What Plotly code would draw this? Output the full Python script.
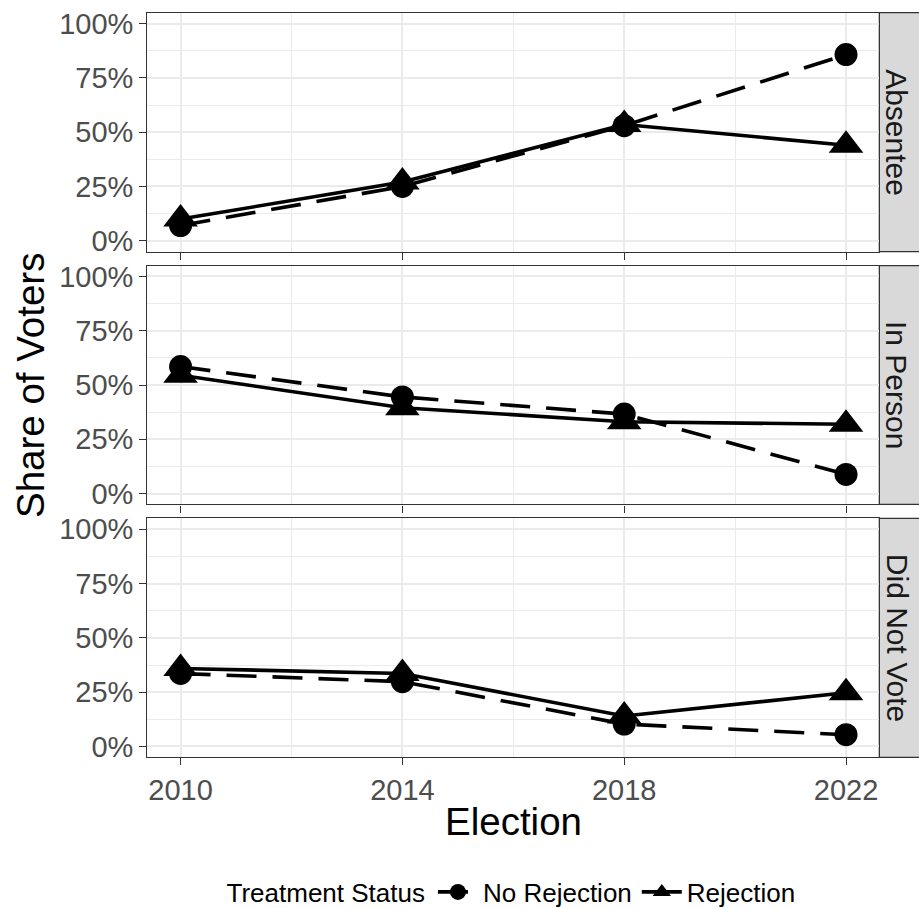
import plotly.graph_objects as go

elections = [2010, 2014, 2018, 2022]
panels = ["Absentee", "In Person", "Did Not Vote"]
groups = ["No Rejection", "Rejection"]

# share of voters (fraction) per panel, per group
absentee_no_rej = [0.07, 0.25, 0.53, 0.857]
absentee_rej = [0.10, 0.27, 0.535, 0.44]
inperson_no_rej = [0.585, 0.445, 0.366, 0.088]
inperson_rej = [0.545, 0.395, 0.331, 0.319]
didnotvote_no_rej = [0.336, 0.298, 0.103, 0.054]
didnotvote_rej = [0.359, 0.336, 0.14, 0.247]

y_ticks = [0, 0.25, 0.5, 0.75, 1.0]
x_ticks = [2010, 2014, 2018, 2022]

data = {
    "Absentee": (absentee_no_rej, absentee_rej),
    "In Person": (inperson_no_rej, inperson_rej),
    "Did Not Vote": (didnotvote_no_rej, didnotvote_rej),
}

W, H = 919, 909


def fx(px):
    return px / W


def fy(py):
    return 1 - py / H


px_left, px_right = 147.3, 879.3
strip_right = 919
panel_px = [(12.7, 251.6), (265.6, 504.4), (518.4, 757.3)]

fig = go.Figure()

styles = {
    "No Rejection": dict(dash="30px,16px", symbol="circle", size=23),
    "Rejection": dict(dash="solid", symbol="triangle-up", size=30),
}

for i, p in enumerate(panels):
    ax = "" if i == 0 else str(i + 1)
    for g, vals in zip(groups, data[p]):
        st = styles[g]
        fig.add_trace(go.Scatter(
            x=elections, y=vals, mode="lines+markers", name=g,
            legendgroup=g, showlegend=(i == 0),
            line=dict(color="black", width=3.6, dash=st["dash"]),
            marker=dict(color="black", symbol=st["symbol"], size=st["size"]),
            xaxis="x" + ax, yaxis="y" + ax,
        ))

grid_major = "#EBEBEB"
layout = dict(
    width=W, height=H,
    margin=dict(l=0, r=0, t=0, b=0, autoexpand=False),
    paper_bgcolor="white", plot_bgcolor="white",
    font=dict(family="Liberation Sans, Arial, sans-serif", color="#4D4D4D"),
    showlegend=True,
    legend=dict(
        orientation="h", x=fx(512.5), xanchor="center", y=fy(892), yanchor="middle",
        title=dict(text="Treatment Status", font=dict(size=26, color="black")),
        font=dict(size=26, color="black"),
        itemwidth=40, bgcolor="rgba(0,0,0,0)",
    ),
)

shapes = []
annotations = []
for i, p in enumerate(panels):
    top, bot = panel_px[i]
    dom = [fy(bot), fy(top)]
    xk = "xaxis" if i == 0 else f"xaxis{i + 1}"
    yk = "yaxis" if i == 0 else f"yaxis{i + 1}"
    ax = "" if i == 0 else str(i + 1)
    layout[xk] = dict(
        domain=[fx(px_left), fx(px_right)], anchor="y" + ax,
        range=[2009.4, 2022.6], automargin=False,
        tickvals=x_ticks, showticklabels=(i == 2),
        ticks="outside", ticklen=7, tickcolor="#333333", tickwidth=1.2,
        tickfont=dict(size=29, color="#4D4D4D"),
        showgrid=True, gridcolor=grid_major, gridwidth=1.6,
        minor=dict(dtick=2, tick0=2010, showgrid=True, gridcolor=grid_major, gridwidth=0.8),
        showline=True, mirror=True, linecolor="#333333", linewidth=1.2,
        zeroline=False,
    )
    if i != 0:
        layout[xk]["matches"] = "x"
    layout[yk] = dict(
        domain=dom, anchor="x" + ax,
        range=[-0.05, 1.05], automargin=False,
        tickvals=y_ticks, tickformat=".0%",
        ticks="outside", ticklen=7, tickcolor="#333333", tickwidth=1.2,
        tickfont=dict(size=29, color="#4D4D4D"),
        showgrid=True, gridcolor=grid_major, gridwidth=1.6,
        minor=dict(dtick=0.125, tick0=0, showgrid=True, gridcolor=grid_major, gridwidth=0.8),
        showline=True, mirror=True, linecolor="#333333", linewidth=1.2,
        zeroline=False,
    )
    shapes.append(dict(
        type="rect", xref="paper", yref="paper",
        x0=fx(px_right), x1=fx(strip_right + 2), y0=dom[0], y1=dom[1],
        fillcolor="#D9D9D9", line=dict(color="#333333", width=1.2), layer="below",
    ))
    annotations.append(dict(
        text=p, xref="paper", yref="paper",
        x=fx(897), y=(dom[0] + dom[1]) / 2,
        showarrow=False, textangle=90,
        font=dict(size=30, color="#1A1A1A"),
        xanchor="center", yanchor="middle",
    ))

annotations.append(dict(
    text="Share of Voters", xref="paper", yref="paper",
    x=fx(31), y=fy(386), showarrow=False, textangle=-90,
    font=dict(size=38.5, color="black"), xanchor="center", yanchor="middle",
))
annotations.append(dict(
    text="Election", xref="paper", yref="paper",
    x=fx((px_left + px_right) / 2), y=fy(821), showarrow=False,
    font=dict(size=38.5, color="black"), xanchor="center", yanchor="middle",
))

layout["shapes"] = shapes
layout["annotations"] = annotations
fig.update_layout(**layout)
fig.write_html(
    "out.html",
    config={"displayModeBar": False},
    post_script="document.body.style.margin='0px';document.body.style.overflow='hidden';",
)
